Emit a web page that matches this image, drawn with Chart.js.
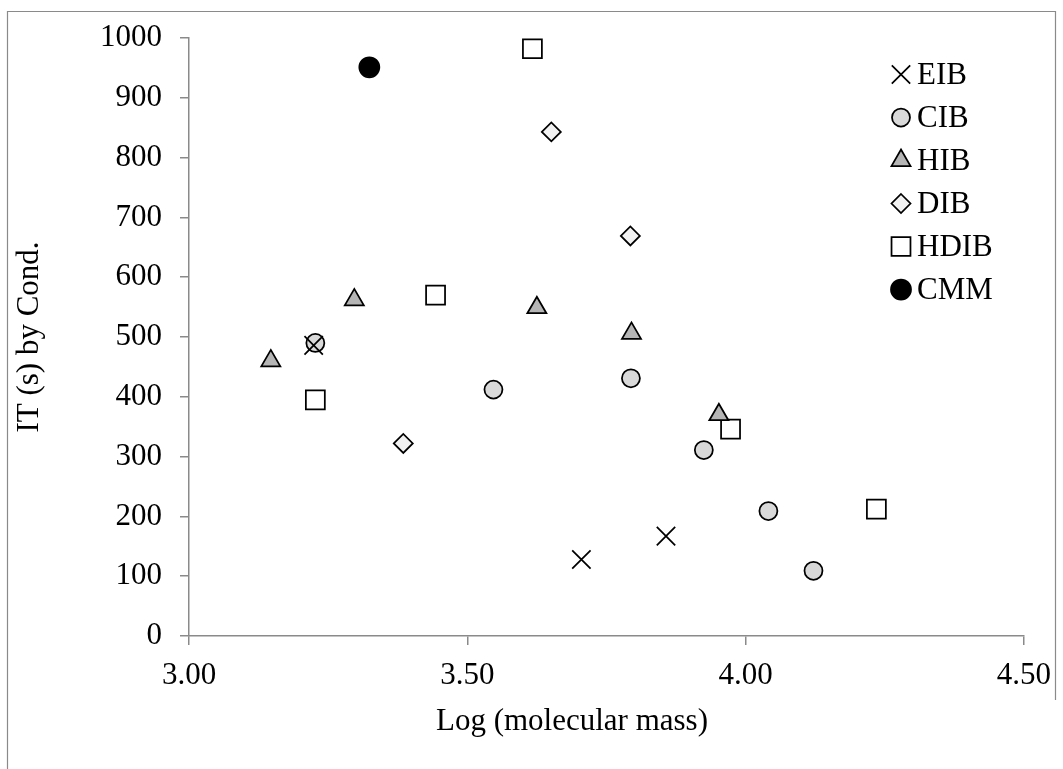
<!DOCTYPE html>
<html><head><meta charset="utf-8">
<script src="https://cdn.jsdelivr.net/npm/chart.js"></script>
<style>html,body{margin:0;padding:0;background:#fff;}#wrap{width:1063px;height:769px;position:relative;}</style>
</head><body><div id="wrap"><canvas id="c" width="1063" height="769"></canvas></div>
<script>
// ---- data ----
const seriesNames = ['EIB', 'CIB', 'HIB', 'DIB', 'HDIB', 'CMM'];
const eibX = [3.224, 3.705, 3.857];
const eibY = [486, 128, 167];
const cibX = [3.227, 3.547, 3.794, 3.925, 4.041, 4.122];
const cibY = [490, 412, 431, 311, 209, 109];
const hibX = [3.147, 3.297, 3.625, 3.795, 3.952];
const hibY = [460, 562, 549, 506, 370];
const dibX = [3.385, 3.651, 3.793];
const dibY = [322, 843, 669];
const hdibX = [3.227, 3.443, 3.617, 3.973, 4.235];
const hdibY = [395, 570, 982, 346, 212];
const cmmX = [3.324];
const cmmY = [951];
const xTickValues = [3.0, 3.5, 4.0, 4.5];
const yTickValues = [0, 100, 200, 300, 400, 500, 600, 700, 800, 900, 1000];
const xTitle = 'Log (molecular mass)';
const yTitle = 'IT (s) by Cond.';

const FONT = '"Liberation Serif", "Times New Roman", serif';
Chart.defaults.font.family = FONT;
Chart.defaults.font.size = 31;
Chart.defaults.color = '#000';

const pts = (xs, ys) => xs.map((x, i) => ({x: x, y: ys[i]}));

const styles = [
  {pointStyle: 'crossRot', radius: 13, bg: 'rgba(0,0,0,0)', border: '#000'},
  {pointStyle: 'circle', radius: 9, bg: '#d9d9d9', border: '#000'},
  {pointStyle: 'triangle', radius: 11, bg: '#b5b5b5', border: '#000'},
  {pointStyle: 'rectRot', radius: 9.5, bg: '#f2f2f2', border: '#000'},
  {pointStyle: 'rect', radius: 13.4, bg: '#ffffff', border: '#000'},
  {pointStyle: 'circle', radius: 10, bg: '#000000', border: '#000'}
];
const dataSets = [pts(eibX, eibY), pts(cibX, cibY), pts(hibX, hibY), pts(dibX, dibY), pts(hdibX, hdibY), pts(cmmX, cmmY)];

const datasets = seriesNames.map((name, i) => ({
  label: name,
  data: dataSets[i],
  pointStyle: styles[i].pointStyle,
  pointRadius: styles[i].radius,
  pointHoverRadius: styles[i].radius,
  pointBackgroundColor: styles[i].bg,
  pointBorderColor: styles[i].border,
  pointBorderWidth: 1.75,
  showLine: false,
  clip: false
}));

function drawMarker(ctx, style, r, x, y, bg) {
  ctx.save();
  ctx.beginPath();
  if (style === 'circle') {
    ctx.arc(x, y, r, 0, Math.PI * 2);
  } else if (style === 'triangle') {
    for (let k = 0; k < 3; k++) {
      const a = -Math.PI / 2 + k * 2 * Math.PI / 3;
      const px = x + Math.cos(a) * r, py = y + Math.sin(a) * r;
      if (k === 0) ctx.moveTo(px, py); else ctx.lineTo(px, py);
    }
    ctx.closePath();
  } else if (style === 'rect') {
    const s = Math.SQRT1_2 * r;
    ctx.rect(x - s, y - s, 2 * s, 2 * s);
  } else if (style === 'rectRot') {
    ctx.moveTo(x, y - r); ctx.lineTo(x + r, y); ctx.lineTo(x, y + r); ctx.lineTo(x - r, y); ctx.closePath();
  } else if (style === 'crossRot') {
    const o = Math.SQRT1_2 * r;
    ctx.moveTo(x - o, y - o); ctx.lineTo(x + o, y + o);
    ctx.moveTo(x - o, y + o); ctx.lineTo(x + o, y - o);
  }
  if (style !== 'crossRot') { ctx.fillStyle = bg; ctx.fill(); }
  ctx.strokeStyle = '#000';
  ctx.lineWidth = 1.75;
  ctx.stroke();
  ctx.restore();
}

const framePlugin = {
  id: 'frame',
  beforeDraw(chart) {
    const ctx = chart.ctx;
    ctx.save();
    ctx.fillStyle = '#fff';
    ctx.fillRect(0, 0, chart.width, chart.height);
    ctx.strokeStyle = '#8a8a8a';
    ctx.lineWidth = 1.2;
    ctx.beginPath();
    ctx.moveTo(7.5, 769); ctx.lineTo(7.5, 11.5); ctx.lineTo(1055.5, 11.5); ctx.lineTo(1055.5, 700);
    ctx.stroke();
    ctx.restore();
  }
};

const legendPlugin = {
  id: 'customLegend',
  afterDraw(chart) {
    const ctx = chart.ctx;
    const x0 = 901, y0 = 74.5, step = 43, tx = 917;
    chart.data.datasets.forEach((ds, i) => {
      const y = y0 + i * step;
      drawMarker(ctx, ds.pointStyle, ds.pointRadius, x0, y, ds.pointBackgroundColor);
      ctx.save();
      ctx.font = '31px ' + FONT;
      ctx.fillStyle = '#000';
      ctx.textAlign = 'left';
      ctx.textBaseline = 'middle';
      ctx.fillText(ds.label, tx, y + 1);
      ctx.restore();
    });
    // x-axis title
    ctx.save();
    ctx.font = '31px ' + FONT;
    ctx.fillStyle = '#000';
    ctx.textAlign = 'center';
    ctx.textBaseline = 'middle';
    ctx.fillText(xTitle, 572, 722);
    ctx.restore();
  }
};

new Chart(document.getElementById('c'), {
  type: 'scatter',
  data: {datasets: datasets},
  options: {
    responsive: false,
    animation: false,
    events: [],
    layout: {padding: {left: 0, right: 38, top: 38, bottom: 0}},
    plugins: {legend: {display: false}, tooltip: {enabled: false}},
    scales: {
      x: {
        type: 'linear', position: 'bottom', min: 3, max: 4.5,
        afterBuildTicks: s => { s.ticks = xTickValues.map(v => ({value: v})); },
        afterFit: s => { s.height = 133; },
        ticks: {padding: 12, color: '#000', font: {size: 31}, callback: v => Number(v).toFixed(2), maxRotation: 0, autoSkip: false},
        grid: {drawOnChartArea: false, drawTicks: true, tickLength: 9, color: '#8a8a8a', lineWidth: 1.5},
        border: {color: '#8a8a8a', width: 1.5},
        title: {display: false, text: xTitle}
      },
      y: {
        type: 'linear', position: 'left', min: 0, max: 1000,
        afterBuildTicks: s => { s.ticks = yTickValues.map(v => ({value: v})); },
        afterFit: s => { s.width = 189; },
        ticks: {padding: 18, color: '#000', font: {size: 31}, autoSkip: false, callback: v => String(v)},
        grid: {drawOnChartArea: false, drawTicks: true, tickLength: 9, color: '#8a8a8a', lineWidth: 1.5},
        border: {color: '#8a8a8a', width: 1.5},
        title: {display: true, text: yTitle, color: '#000', font: {size: 31}, padding: {top: 11, bottom: 0}}
      }
    }
  },
  plugins: [framePlugin, legendPlugin]
});
</script></body></html>
